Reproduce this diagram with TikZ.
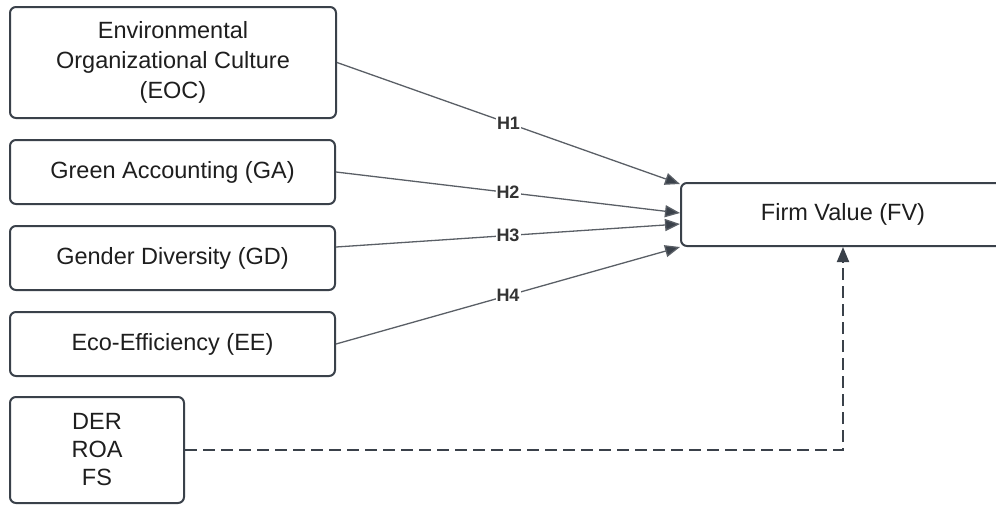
\documentclass[tikz,border=0pt]{standalone}
\usepackage{fontspec}
\setmainfont{Liberation Sans}
\usetikzlibrary{arrows.meta}
\definecolor{boxline}{HTML}{3A414A}
\definecolor{conline}{HTML}{5A5F66}
\definecolor{txt}{HTML}{1E1E1E}
\definecolor{hlab}{HTML}{333333}
\tikzset{
  varbox/.style={draw=boxline, line width=2pt, rounded corners=6pt, fill=white,
    inner sep=0pt, align=center, text=txt, font=\fontsize{23.5}{30}\selectfont},
  conn/.style={draw=conline, line width=1.3pt,
    -{Triangle[length=15pt,width=12pt,fill=boxline]}},
  dashconn/.style={draw=boxline, line width=2pt, dash pattern=on 12pt off 6pt,
    -{Triangle[length=15pt,width=12pt,fill=boxline]}},
  hlabel/.style={fill=white, inner sep=1pt, text=hlab, font=\fontsize{18}{20}\selectfont\bfseries}
}
\begin{document}
\begin{tikzpicture}[x=1pt,y=-1pt]
\useasboundingbox (0,0) rectangle (996,504);
\clip (0,0) rectangle (996,504);
\node[varbox, minimum width=326pt, minimum height=111pt] (eoc) at (173,62.5)
  {Environmental\\Organizational Culture\\(EOC)};
\node[varbox, minimum width=325pt, minimum height=64pt] (ga) at (172.5,172) {Green Accounting (GA)};
\node[varbox, minimum width=325pt, minimum height=64pt] (gd) at (172.5,258) {Gender Diversity (GD)};
\node[varbox, minimum width=325pt, minimum height=64pt] (ee) at (172.5,344) {Eco-Efficiency (EE)};
\node[varbox, minimum width=174pt, minimum height=106pt, font=\fontsize{23.5}{28}\selectfont] (der) at (97,450)
  {DER\\ROA\\FS};
\node[varbox, minimum width=324pt, minimum height=63pt] (fv) at (843,214.5) {Firm Value (FV)};

\draw[conn] (eoc.east) -- node[hlabel]{H1} ([yshift=-2pt]fv.north west);
\draw[conn] (ga.east) -- node[hlabel]{H2} ([yshift=1.5pt]fv.west);
\draw[conn] ([yshift=11pt]gd.east) -- node[hlabel]{H3} ([yshift=-9.5pt]fv.west);
\draw[conn] (ee.east) -- node[hlabel]{H4} (fv.south west);
\draw[dashconn] (der.east) -| (fv.south);
\end{tikzpicture}
\end{document}
